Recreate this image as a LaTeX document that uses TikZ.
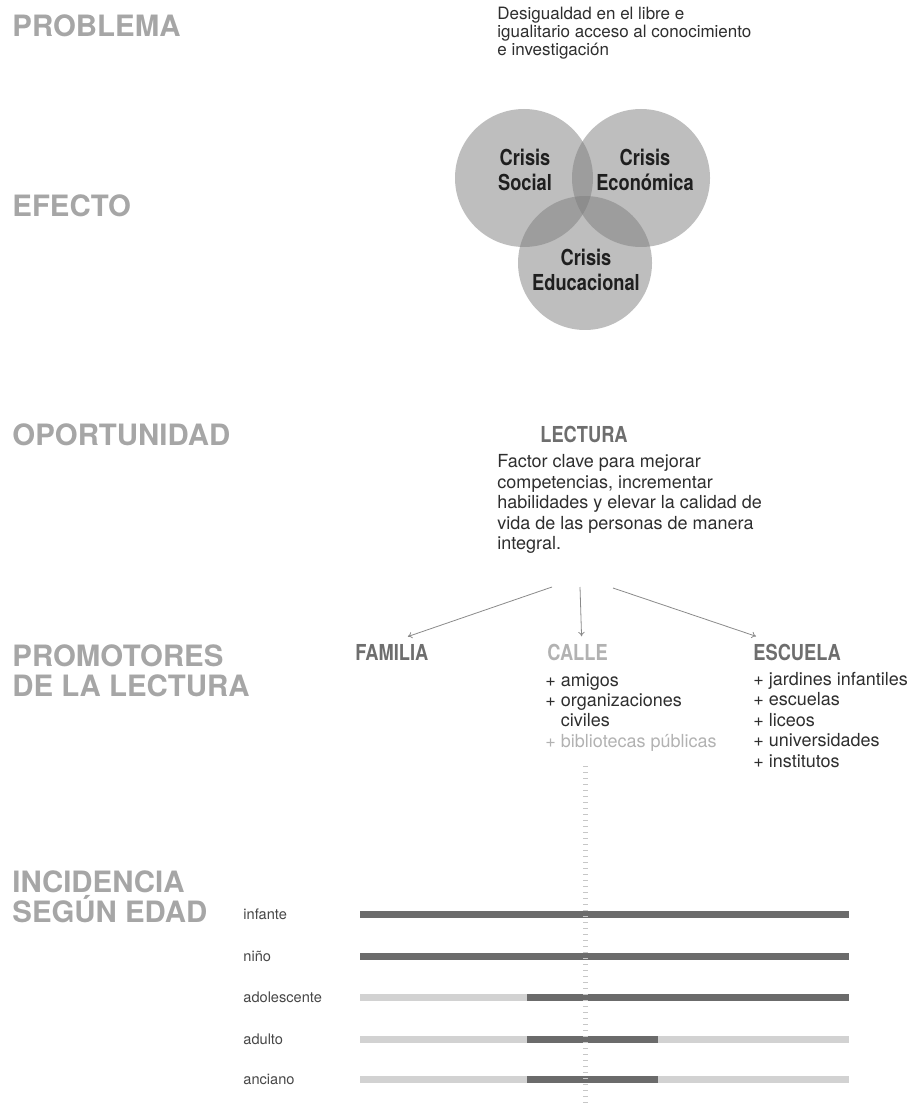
\documentclass[tikz,border=0pt]{standalone}
\usepackage{fontspec}
\setmainfont{TeX Gyre Heros}
\newfontfamily\condfont[FakeStretch=0.83]{TeX Gyre Heros}
\usepackage{tikz}
\usetikzlibrary{arrows.meta}

\definecolor{titulo}{HTML}{A6A6A6}
\definecolor{texto}{HTML}{2E2E2E}
\definecolor{subtitulo}{HTML}{6E6E6E}
\definecolor{claro}{HTML}{B2B2B2}
\definecolor{circulo}{HTML}{7D7D7D}
\definecolor{barraoscura}{HTML}{6B6B6B}
\definecolor{barraclara}{HTML}{D2D2D2}
\definecolor{flechagris}{HTML}{8A8A8A}

\tikzset{
  seccion/.style={font=\bfseries\fontsize{14.7}{15}\selectfont, text=titulo, inner sep=0pt, align=left},
  cuerpo/.style={font=\fontsize{9}{10.3}\selectfont, text=texto, inner sep=0pt, align=left},
  crisis/.style={font=\condfont\bfseries\fontsize{11}{12.5}\selectfont, text=black!88, inner sep=0pt, align=center},
  rotulo/.style={font=\condfont\bfseries\fontsize{11}{13}\selectfont, text=subtitulo, inner sep=0pt},
  lista/.style={font=\fontsize{9}{10.2}\selectfont, text=texto, inner sep=0pt, align=left},
  edad/.style={font=\fontsize{7.3}{9}\selectfont, text=black!72, inner sep=0pt, anchor=mid west},
  flecha/.style={draw=flechagris, line width=0.4pt, -{To[length=2.2pt,width=3.2pt]}},
  guia/.style={draw=black!22, line width=2.5pt, dash pattern=on 0.5pt off 2.5pt}
}

\begin{document}
\begin{tikzpicture}[x=0.5pt, y=-0.5pt]
\useasboundingbox (0,0) rectangle (918,1106);

% --- Section titles ---
\node[seccion, anchor=base west] (problema) at (12,37) {PROBLEMA};
\node[seccion, anchor=base west] (efecto) at (12,217) {EFECTO};
\node[seccion, anchor=base west] (oportunidad) at (12,445) {OPORTUNIDAD};
\node[seccion, anchor=north west] (promotores) at (12,644) {PROMOTORES\\DE LA LECTURA};
\node[seccion, anchor=north west] (incidencia) at (12,870) {INCIDENCIA\\SEGÚN EDAD};

% --- Problem ---
\node[cuerpo, font=\fontsize{8.5}{9}\selectfont, anchor=north west] (desigualdad) at (497,7)
  {Desigualdad en el libre e\\igualitario acceso al conocimiento\\e investigación};

% --- Effect: three overlapping circles ---
\begin{scope}[fill opacity=0.5]
  \fill[circulo] (524,178) circle (69);
  \fill[circulo] (641,178) circle (69);
  \fill[circulo] (585,263) circle (67);
\end{scope}
\node[crisis] (social) at (525,170) {Crisis\\Social};
\node[crisis] (economica) at (645,170) {Crisis\\Económica};
\node[crisis] (educacional) at (586,270) {Crisis\\Educacional};

% --- Opportunity ---
\node[rotulo, anchor=base west] (lectura) at (540,442) {LECTURA};
\node[cuerpo, anchor=north west] (factor) at (497,454)
  {Factor clave para mejorar\\competencias, incrementar\\habilidades y elevar la calidad de\\vida de las personas de manera\\integral.};

% --- Promoters ---
\node[rotulo, anchor=base west] (familia) at (355,660) {FAMILIA};
\node[rotulo, text=claro, anchor=base west] (calle) at (547,660) {CALLE};
\node[rotulo, anchor=base west] (escuela) at (753,660) {ESCUELA};
\node[lista, anchor=north west] (calle-lista) at (545,673)
  {+ amigos\\+ organizaciones\\\phantom{+ }civiles\\\textcolor{claro}{+ bibliotecas públicas}};
\node[lista, anchor=north west] (escuela-lista) at (753,672)
  {+ jardines infantiles\\+ escuelas\\+ liceos\\+ universidades\\+ institutos};

% arrows from the description down to each promoter
\coordinate (s-familia) at (552,587);
\coordinate (s-calle) at (580,587);
\coordinate (s-escuela) at (613,588);
\draw[flecha] (s-familia) -- ([shift={(16,-7)}]familia.north);
\draw[flecha] (s-calle) -- ([shift={(4,-7)}]calle.north);
\draw[flecha] (s-escuela) -- ([shift={(3,-7)}]escuela.north west);

% --- Incidence by age ---
\foreach \nombre/\y/\ini/\fin [count=\i] in {infante/914/360/849, niño/956/360/849,
    adolescente/997/527/849, adulto/1039/527/658, anciano/1079/527/658}{
  \node[edad] (edad-\i) at (243,\y) {\nombre};
  \fill[barraclara] (360,\y-3.5) rectangle (849,\y+3.5);
  \fill[barraoscura] (\ini,\y-3.5) rectangle (\fin,\y+3.5);
}

% dotted guide under CALLE
\coordinate (guia-ini) at (585,766);
\coordinate (guia-fin) at (585,1106);
\draw[guia] (guia-ini) -- (guia-fin);

\end{tikzpicture}
\end{document}
